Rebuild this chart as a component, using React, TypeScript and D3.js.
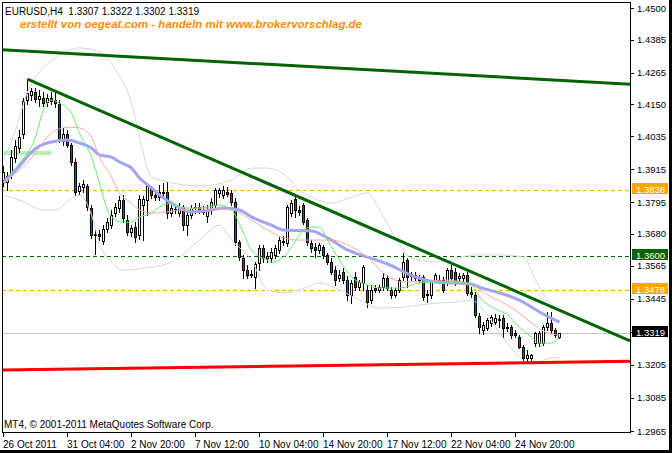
import * as d3 from 'd3';

// EURUSD H4 candles, left to right
const opens = [
  1.3876, 1.3869, 1.3894, 1.3956, 1.3992, 1.4043, 1.4166, 1.4184, 1.4195, 1.4170,
  1.4173, 1.4159, 1.4173, 1.4166, 1.4152, 1.4017, 1.4043, 1.4003, 1.3941, 1.3836,
  1.3850, 1.3854, 1.3774, 1.3676, 1.3680, 1.3654, 1.3698, 1.3712, 1.3756, 1.3774,
  1.3803, 1.3731, 1.3687, 1.3705, 1.3676, 1.3785, 1.3803, 1.3847, 1.3821, 1.3814,
  1.3832, 1.3832, 1.3756, 1.3771, 1.3756, 1.3778, 1.3712, 1.3749, 1.3774, 1.3778,
  1.3767, 1.3745, 1.3767, 1.3785, 1.3829, 1.3821, 1.3832, 1.3829, 1.3796, 1.3651,
  1.3593, 1.3549, 1.3535, 1.3524, 1.3575, 1.3629, 1.3593, 1.3593, 1.3604, 1.3622,
  1.3654, 1.3647, 1.3756, 1.3807, 1.3767, 1.3785, 1.3731, 1.3647, 1.3633, 1.3622,
  1.3633, 1.3604, 1.3578, 1.3549, 1.3520, 1.3542, 1.3513, 1.3458, 1.3524, 1.3487,
  1.3502, 1.3477, 1.3440, 1.3484, 1.3477, 1.3487, 1.3520, 1.3477, 1.3458, 1.3477,
  1.3524, 1.3585, 1.3527, 1.3531, 1.3520, 1.3524, 1.3462, 1.3458, 1.3513, 1.3513,
  1.3513, 1.3502, 1.3549, 1.3542, 1.3520, 1.3520, 1.3531, 1.3469, 1.3458, 1.3382,
  1.3331, 1.3339, 1.3357, 1.3360, 1.3371, 1.3375, 1.3342, 1.3342, 1.3321, 1.3306,
  1.3270, 1.3230, 1.3230, 1.3284, 1.3284, 1.3284, 1.3342, 1.3357, 1.3331, 1.3307,
];
const highs = [
  1.3927, 1.3905, 1.3985, 1.4021, 1.4057, 1.4173, 1.4242, 1.4210, 1.4210, 1.4202,
  1.4195, 1.4188, 1.4195, 1.4192, 1.4166, 1.4065, 1.4057, 1.4010, 1.3956, 1.3865,
  1.3876, 1.3861, 1.3785, 1.3694, 1.3694, 1.3712, 1.3738, 1.3767, 1.3792, 1.3818,
  1.3821, 1.3749, 1.3712, 1.3723, 1.3821, 1.3818, 1.3865, 1.3854, 1.3839, 1.3858,
  1.3865, 1.3869, 1.3785, 1.3785, 1.3792, 1.3785, 1.3767, 1.3785, 1.3792, 1.3792,
  1.3781, 1.3785, 1.3810, 1.3847, 1.3847, 1.3854, 1.3850, 1.3839, 1.3810, 1.3658,
  1.3604, 1.3567, 1.3549, 1.3578, 1.3640, 1.3640, 1.3614, 1.3629, 1.3640, 1.3669,
  1.3673, 1.3785, 1.3803, 1.3825, 1.3781, 1.3792, 1.3738, 1.3658, 1.3647, 1.3647,
  1.3640, 1.3611, 1.3593, 1.3564, 1.3549, 1.3556, 1.3527, 1.3513, 1.3542, 1.3513,
  1.3567, 1.3495, 1.3495, 1.3495, 1.3495, 1.3538, 1.3531, 1.3487, 1.3484, 1.3520,
  1.3611, 1.3593, 1.3542, 1.3542, 1.3531, 1.3531, 1.3477, 1.3513, 1.3538, 1.3531,
  1.3524, 1.3556, 1.3567, 1.3556, 1.3538, 1.3538, 1.3542, 1.3487, 1.3469, 1.3393,
  1.3360, 1.3375, 1.3386, 1.3389, 1.3386, 1.3386, 1.3357, 1.3350, 1.3331, 1.3313,
  1.3277, 1.3259, 1.3244, 1.3324, 1.3328, 1.3350, 1.3397, 1.3397, 1.3339, 1.3322,
];
const lows = [
  1.3854, 1.3839, 1.3883, 1.3941, 1.3977, 1.4028, 1.4152, 1.4166, 1.4159, 1.4144,
  1.4144, 1.4144, 1.4152, 1.4141, 1.4014, 1.4003, 1.3996, 1.3930, 1.3821, 1.3825,
  1.3832, 1.3767, 1.3666, 1.3607, 1.3658, 1.3644, 1.3687, 1.3702, 1.3745, 1.3760,
  1.3723, 1.3676, 1.3673, 1.3651, 1.3662, 1.3658, 1.3749, 1.3810, 1.3803, 1.3803,
  1.3810, 1.3738, 1.3745, 1.3756, 1.3745, 1.3694, 1.3676, 1.3738, 1.3756, 1.3756,
  1.3752, 1.3723, 1.3752, 1.3774, 1.3814, 1.3810, 1.3818, 1.3785, 1.3640, 1.3585,
  1.3520, 1.3520, 1.3524, 1.3484, 1.3549, 1.3578, 1.3578, 1.3578, 1.3593, 1.3611,
  1.3640, 1.3636, 1.3745, 1.3742, 1.3749, 1.3716, 1.3640, 1.3614, 1.3596, 1.3611,
  1.3593, 1.3571, 1.3535, 1.3495, 1.3509, 1.3502, 1.3440, 1.3429, 1.3477, 1.3477,
  1.3477, 1.3415, 1.3429, 1.3469, 1.3469, 1.3477, 1.3477, 1.3448, 1.3451, 1.3469,
  1.3513, 1.3487, 1.3513, 1.3513, 1.3506, 1.3440, 1.3433, 1.3448, 1.3506, 1.3502,
  1.3469, 1.3495, 1.3513, 1.3495, 1.3506, 1.3509, 1.3458, 1.3451, 1.3379, 1.3321,
  1.3317, 1.3331, 1.3346, 1.3353, 1.3342, 1.3306, 1.3328, 1.3302, 1.3306, 1.3266,
  1.3215, 1.3212, 1.3215, 1.3273, 1.3273, 1.3277, 1.3331, 1.3321, 1.3306, 1.3302,
];
const closes = [
  1.3905, 1.3890, 1.3959, 1.3999, 1.4032, 1.4162, 1.4192, 1.4199, 1.4170, 1.4181,
  1.4155, 1.4173, 1.4162, 1.4155, 1.4021, 1.4043, 1.4003, 1.3941, 1.3832, 1.3854,
  1.3861, 1.3778, 1.3676, 1.3680, 1.3673, 1.3698, 1.3723, 1.3749, 1.3778, 1.3803,
  1.3738, 1.3687, 1.3702, 1.3669, 1.3807, 1.3807, 1.3854, 1.3821, 1.3814, 1.3832,
  1.3829, 1.3756, 1.3774, 1.3767, 1.3778, 1.3712, 1.3749, 1.3774, 1.3778, 1.3763,
  1.3760, 1.3767, 1.3796, 1.3839, 1.3839, 1.3839, 1.3825, 1.3796, 1.3651, 1.3596,
  1.3549, 1.3531, 1.3532, 1.3571, 1.3629, 1.3593, 1.3600, 1.3614, 1.3629, 1.3658,
  1.3651, 1.3778, 1.3792, 1.3767, 1.3760, 1.3723, 1.3651, 1.3629, 1.3622, 1.3640,
  1.3604, 1.3578, 1.3542, 1.3513, 1.3531, 1.3513, 1.3458, 1.3502, 1.3487, 1.3506,
  1.3560, 1.3433, 1.3477, 1.3477, 1.3487, 1.3520, 1.3484, 1.3458, 1.3477, 1.3513,
  1.3578, 1.3524, 1.3535, 1.3520, 1.3513, 1.3451, 1.3458, 1.3506, 1.3531, 1.3509,
  1.3477, 1.3549, 1.3520, 1.3506, 1.3527, 1.3531, 1.3466, 1.3462, 1.3386, 1.3342,
  1.3350, 1.3368, 1.3379, 1.3375, 1.3368, 1.3339, 1.3339, 1.3313, 1.3313, 1.3270,
  1.3230, 1.3241, 1.3241, 1.3321, 1.3321, 1.3342, 1.3357, 1.3331, 1.3313, 1.3319,
];

const timeLabels = [
  '26 Oct 2011', '31 Oct 04:00', '2 Nov 20:00', '7 Nov 12:00', '10 Nov 04:00',
  '14 Nov 20:00', '17 Nov 12:00', '22 Nov 04:00', '24 Nov 20:00',
];
const timeLabelBars = [0, 16, 32, 48, 64, 80, 96, 112, 128];
const priceTicks = [
  1.45, 1.4385, 1.4265, 1.415, 1.4035, 1.3915, 1.3795, 1.368, 1.3565, 1.3445,
  1.3325, 1.3205, 1.3085, 1.2965,
];

// indicator lines as [bar, price]
const maFast: [number, number][] = [
  [0, 1.3876], [4, 1.3937], [8, 1.4032], [10, 1.413], [12, 1.4166], [14, 1.4155],
  [17, 1.4119], [19, 1.4046], [22, 1.3959], [24, 1.3865], [26, 1.3767], [28, 1.3731],
  [30, 1.3723], [32, 1.3723], [34, 1.3742], [37, 1.3756], [39, 1.3778], [42, 1.3792],
  [44, 1.3778], [47, 1.3774], [49, 1.3774], [54, 1.3785], [57, 1.3767], [60, 1.3684],
  [62, 1.3622], [66, 1.3585], [67, 1.3578], [70, 1.3596], [72, 1.3633], [75, 1.3694],
  [77, 1.3705], [79, 1.3705], [81, 1.3658], [84, 1.3585], [87, 1.3524], [91, 1.3495],
  [94, 1.3484], [99, 1.3484], [104, 1.3502], [109, 1.3506], [114, 1.3506], [117, 1.3495],
  [119, 1.3451], [122, 1.3415], [126, 1.3386], [129, 1.3342], [132, 1.3306],
  [134, 1.3284], [137, 1.3284], [139, 1.3306],
];
const maMid: [number, number][] = [
  [0, 1.3869], [4, 1.3912], [8, 1.3974], [11, 1.4032], [13, 1.4057], [17, 1.4068],
  [19, 1.4065], [22, 1.4032], [24, 1.3959], [27, 1.3887], [29, 1.3829], [32, 1.3792],
  [34, 1.3767], [37, 1.3756], [41, 1.376], [44, 1.3767], [49, 1.3774], [57, 1.3767],
  [62, 1.3731], [66, 1.3694], [70, 1.3666], [74, 1.3658], [82, 1.3658], [87, 1.3633],
  [91, 1.3596], [95, 1.3538], [100, 1.3506], [105, 1.3506], [110, 1.3513],
  [117, 1.3495], [122, 1.3451], [126, 1.3422], [129, 1.3393], [132, 1.3357],
  [136, 1.3321], [139, 1.3313],
];
const maSlow: [number, number][] = [
  [0, 1.3865], [4, 1.3927], [7, 1.3977], [9, 1.3999], [12, 1.4014], [16, 1.4021],
  [19, 1.401], [22, 1.3992], [24, 1.3967], [27, 1.3959], [29, 1.3941], [32, 1.3919],
  [34, 1.3883], [37, 1.3847], [39, 1.3821], [42, 1.3792], [47, 1.376], [52, 1.3767],
  [55, 1.3774], [59, 1.3767], [62, 1.3742], [67, 1.3712], [70, 1.3694], [77, 1.3691],
  [81, 1.3666], [86, 1.3622], [91, 1.3596], [96, 1.3571], [103, 1.3524], [108, 1.3506],
  [113, 1.3502], [117, 1.3498], [119, 1.3487], [124, 1.3466], [129, 1.344],
  [134, 1.3397], [139, 1.336],
];
const bandUpper: [number, number][] = [
  [0, 1.3948], [3, 1.4057], [6, 1.4195], [9, 1.4268], [13, 1.4319], [19, 1.4355],
  [24, 1.434], [28, 1.4275], [32, 1.4155], [34, 1.4032], [37, 1.3887], [41, 1.3869],
  [49, 1.3854], [57, 1.3876], [62, 1.3919], [66, 1.3919], [71, 1.3887], [74, 1.3839],
  [77, 1.3814], [82, 1.3792], [87, 1.3814], [91, 1.3829], [94, 1.3767], [98, 1.3666],
  [102, 1.3593], [109, 1.3578], [118, 1.3604], [124, 1.3604], [130, 1.3596],
  [133, 1.3513], [136, 1.344], [139, 1.3404],
];
const bandLower: [number, number][] = [
  [0, 1.3821], [4, 1.3803], [10, 1.3767], [13, 1.3767], [17, 1.381], [19, 1.3821],
  [22, 1.3749], [24, 1.3647], [27, 1.3578], [30, 1.3549], [35, 1.3556], [42, 1.3578],
  [49, 1.3658], [54, 1.3712], [57, 1.3658], [62, 1.3585], [66, 1.3477], [71, 1.3466],
  [74, 1.3477], [79, 1.3502], [84, 1.3477], [89, 1.344], [94, 1.3411], [100, 1.3415],
  [108, 1.3429], [113, 1.3433], [117, 1.344], [120, 1.3404], [124, 1.3321],
  [128, 1.3248], [132, 1.3204], [135, 1.3223], [139, 1.3233],
];

// drawn objects, anchored as [bar, price]
const trendDown: [number, number][] = [[6, 1.4242], [150, 1.3334]];
const trendTop: [number, number][] = [[0, 1.4348], [150, 1.4229]];
const support: [number, number][] = [[0, 1.3186], [150, 1.3217]];
const paleBand: [number, number][] = [[0, 1.3974], [12, 1.3974]];
const levelPrices = [1.3838, 1.36, 1.3478];
const levelColors = ['#FFA500', '#006400', '#FFA500'];
const bidPrice = 1.3319;

const W = 672;
const H = 453;
const frame = { left: 2, top: 2, right: 630, bottom: 432 };
const font = "'Liberation Sans', Arial, sans-serif";

const App = () => {
  const x = d3.scaleLinear().domain([0, 1]).range([3.5, 7.5]);
  const y = d3.scaleLinear().domain([1.2965, 1.45]).range([431, 8]);
  const curve = d3
    .line<[number, number]>()
    .x(d => x(d[0]))
    .y(d => y(d[1]))
    .curve(d3.curveMonotoneX);
  const straight = d3
    .line<[number, number]>()
    .x(d => x(d[0]))
    .y(d => y(d[1]));

  // extend a two point line to the right edge (and to the left edge if asked)
  const ray = (pts: [number, number][], fromLeft: boolean): [number, number][] => {
    const [[b0, p0], [b1, p1]] = pts;
    const slope = (p1 - p0) / (b1 - b0);
    const start = fromLeft ? x.invert(frame.left) : b0;
    const end = x.invert(frame.right);
    return [
      [start, p0 + slope * (start - b0)],
      [end, p0 + slope * (end - b0)],
    ];
  };

  const snap = (v: number) => Math.round(v) + 0.5;
  const boxes = [
    ...levelPrices.map((p, i) => ({ price: p, color: levelColors[i] })),
    { price: bidPrice, color: '#000' },
  ];
  const hidden = (p: number) => boxes.some(b => Math.abs(y(b.price) - y(p)) < 6);

  return (
    <svg
      width={W}
      height={H}
      viewBox={`0 0 ${W} ${H}`}
      style={{ position: 'absolute', left: 0, top: 0, display: 'block' }}
      fontFamily={font}
    >
      <defs>
        <clipPath id="plot">
          <rect
            x={frame.left}
            y={frame.top}
            width={frame.right - frame.left}
            height={frame.bottom - frame.top}
          />
        </clipPath>
      </defs>
      <rect width={W} height={H} fill="#fff" />
      <rect x={W - 3} y={0} width={3} height={H} fill="#000" />
      <rect x={0} y={H - 3} width={W} height={3} fill="#000" />

      <g clipPath="url(#plot)">
        {/* bid line */}
        <line
          x1={frame.left}
          x2={frame.right}
          y1={snap(y(bidPrice))}
          y2={snap(y(bidPrice))}
          stroke="#C8C8C8"
        />
        {levelPrices.map((p, i) => (
          <line
            key={p}
            x1={frame.left}
            x2={frame.right}
            y1={snap(y(p))}
            y2={snap(y(p))}
            stroke={levelColors[i]}
            strokeDasharray="4,3"
          />
        ))}
        <path d={straight(paleBand) || ''} stroke="#B8F0B8" strokeWidth={4} fill="none" />

        {/* candles */}
        {opens.map((o, i) => {
          const c = closes[i];
          const cx = x(i);
          const top = Math.round(y(Math.max(o, c)));
          const bot = Math.round(y(Math.min(o, c)));
          return (
            <g key={i} shapeRendering="crispEdges">
              <line
                x1={cx}
                x2={cx}
                y1={Math.round(y(highs[i]))}
                y2={Math.round(y(lows[i])) + 1}
                stroke="#000"
              />
              <rect
                x={cx - 1}
                y={top + 0.5}
                width={2}
                height={Math.max(bot - top, 0)}
                fill={c >= o ? '#fff' : '#ff0000'}
                stroke="#000"
              />
            </g>
          );
        })}

        {/* indicators */}
        <path d={curve(bandUpper) || ''} stroke="#D6D6D6" fill="none" />
        <path d={curve(bandLower) || ''} stroke="#D6D6D6" fill="none" />
        <path d={curve(maSlow) || ''} stroke="#A4A4F6" strokeWidth={3} fill="none" />
        <path d={curve(maMid) || ''} stroke="#F6A8A8" fill="none" />
        <path d={curve(maFast) || ''} stroke="#66EE66" fill="none" />

        {/* trend lines */}
        <path d={straight(ray(trendTop, true)) || ''} stroke="#006400" strokeWidth={3} fill="none" />
        <path d={straight(ray(trendDown, false)) || ''} stroke="#006400" strokeWidth={3} fill="none" />
        <path d={straight(ray(support, true)) || ''} stroke="#FF0000" strokeWidth={3} fill="none" />
      </g>

      {/* frame */}
      <rect
        x={frame.left + 0.5}
        y={frame.top + 0.5}
        width={frame.right - frame.left}
        height={frame.bottom - frame.top}
        fill="none"
        stroke="#000"
        shapeRendering="crispEdges"
      />

      {/* price axis */}
      {priceTicks.map(p => (
        <g key={p}>
          <line
            x1={frame.right}
            x2={frame.right + 4}
            y1={snap(y(p))}
            y2={snap(y(p))}
            stroke="#000"
            shapeRendering="crispEdges"
          />
          {!hidden(p) && (
            <text x={637} y={y(p) + 3.5} fontSize={9.5} fill="#000">
              {p.toFixed(4)}
            </text>
          )}
        </g>
      ))}
      {boxes.map(b => (
        <g key={b.price}>
          <rect
            x={frame.right + 2}
            y={Math.round(y(b.price)) - 7}
            width={36}
            height={11}
            fill={b.color}
          />
          <text x={frame.right + 6} y={Math.round(y(b.price)) + 2.5} fontSize={9.5} fill="#fff">
            {b.price.toFixed(4)}
          </text>
        </g>
      ))}

      {/* time axis */}
      {timeLabelBars.map((b, i) => (
        <g key={b}>
          <line
            x1={snap(x(b) - 0.5)}
            x2={snap(x(b) - 0.5)}
            y1={frame.bottom}
            y2={frame.bottom + 5}
            stroke="#000"
            shapeRendering="crispEdges"
          />
          <text x={x(b) - 0.5} y={448} fontSize={10} fill="#000">
            {timeLabels[i]}
          </text>
        </g>
      ))}

      {/* header texts */}
      <text x={5} y={15} fontSize={10} fill="#000" xmlSpace="preserve">
        EURUSD,H4  1.3307 1.3322 1.3302 1.3319
      </text>
      <text
        x={20}
        y={28}
        fontSize={11}
        fontWeight="bold"
        fontStyle="italic"
        fill="#FF8C00"
        textLength={342}
        lengthAdjust="spacingAndGlyphs"
      >
        erstellt von oegeat.com - handeln mit www.brokervorschlag.de
      </text>
      <text x={4} y={428} fontSize={10} fill="#000">
        MT4, © 2001-2011 MetaQuotes Software Corp.
      </text>
    </svg>
  );
};

export default App;
